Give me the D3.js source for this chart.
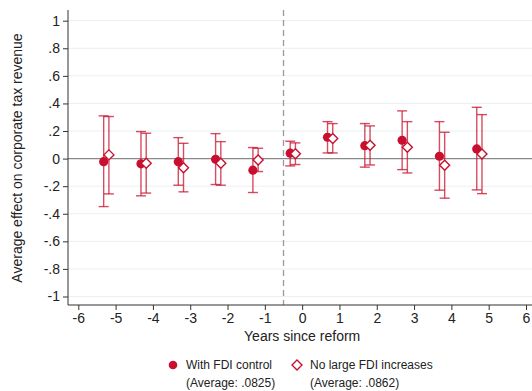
<!DOCTYPE html>
<html>
    <head>
        <meta charset="utf-8">
        <script src="https://cdn.jsdelivr.net/npm/d3@7"></script>
    </head>
    <body style="margin:0;background:#fff">
        <div id="chart-div"></div>
        <script>
            // data
            const years = [-5, -4, -3, -2, -1, 0, 1, 2, 3, 4, 5];
            const fdiEst = [-0.022, -0.038, -0.022, -0.005, -0.084, 0.039, 0.155, 0.094, 0.133, 0.017, 0.070];
            const fdiLo = [-0.348, -0.270, -0.193, -0.188, -0.246, -0.053, 0.041, -0.062, -0.080, -0.229, -0.227];
            const fdiHi = [0.310, 0.196, 0.152, 0.181, 0.080, 0.126, 0.268, 0.254, 0.346, 0.268, 0.372];
            const noIncEst = [0.027, -0.034, -0.067, -0.034, -0.010, 0.036, 0.145, 0.097, 0.083, -0.048, 0.034];
            const noIncLo = [-0.256, -0.250, -0.241, -0.193, -0.094, -0.043, 0.041, -0.046, -0.104, -0.287, -0.254];
            const noIncHi = [0.305, 0.184, 0.111, 0.123, 0.075, 0.114, 0.254, 0.237, 0.268, 0.191, 0.319];
            const xTicks = [-6, -5, -4, -3, -2, -1, 0, 1, 2, 3, 4, 5, 6];
            const yTicks = [-1, -0.8, -0.6, -0.4, -0.2, 0, 0.2, 0.4, 0.6, 0.8, 1];
            const yTickLabels = ["-1", "-.8", "-.6", "-.4", "-.2", "0", ".2", ".4", ".6", ".8", "1"];

            const W = 532, H = 391;
            const color = "#c8102e";

            const svg = d3.select("#chart-div")
                .append("svg")
                .attr("width", W)
                .attr("height", H)
                .style("font-family", "Liberation Sans, Arial, sans-serif");

            // scales
            const x = d3.scaleLinear().domain([-6, 6]).range([78.3, 526]);
            const y = d3.scaleLinear().domain([-1, 1]).range([296.5, 20.7]);
            const plotLeft = 68, plotBottom = 305;

            // gridlines
            svg.append("g")
                .selectAll("line")
                .data(yTicks.filter(d => d !== 0))
                .enter()
                .append("line")
                .attr("x1", plotLeft).attr("x2", W)
                .attr("y1", d => y(d)).attr("y2", d => y(d))
                .attr("stroke", "#e9f0f2")
                .attr("stroke-width", 1);

            // zero line
            svg.append("line")
                .attr("x1", plotLeft).attr("x2", W)
                .attr("y1", y(0)).attr("y2", y(0))
                .attr("stroke", "#8a8a8a")
                .attr("stroke-width", 1.2);

            // reform line
            svg.append("line")
                .attr("x1", x(-0.5)).attr("x2", x(-0.5))
                .attr("y1", 10).attr("y2", plotBottom)
                .attr("stroke", "#9a9a9a")
                .attr("stroke-width", 1.3)
                .attr("stroke-dasharray", "6,4");

            // y axis
            const yAxis = svg.append("g")
                .attr("transform", "translate(" + plotLeft + ",0)")
                .call(d3.axisLeft(y).tickValues(yTicks).tickSize(5).tickPadding(3)
                    .tickFormat((d, i) => yTickLabels[i]));
            yAxis.select(".domain").attr("d", "M0," + 10 + "V" + plotBottom).attr("stroke", "#333");

            // x axis
            const xAxis = svg.append("g")
                .attr("transform", "translate(0," + plotBottom + ")")
                .call(d3.axisBottom(x).tickValues(xTicks).tickSize(5).tickPadding(3)
                    .tickFormat(d => (d < 0 ? "-" : "") + Math.abs(d)));
            xAxis.select(".domain").attr("d", "M" + plotLeft + ",0H" + W).attr("stroke", "#333");

            svg.selectAll(".tick text").attr("font-size", 14).attr("fill", "#222");
            svg.selectAll(".tick line").attr("stroke", "#333");

            // axis titles
            svg.append("text")
                .attr("x", x(0))
                .attr("y", 341)
                .attr("text-anchor", "middle")
                .attr("font-size", 14)
                .attr("fill", "#222")
                .text("Years since reform");

            svg.append("text")
                .attr("transform", "translate(22,158) rotate(-90)")
                .attr("text-anchor", "middle")
                .attr("font-size", 14)
                .attr("fill", "#222")
                .text("Average effect on corporate tax revenue");

            // series
            const series = [
                { est: fdiEst, lo: fdiLo, hi: fdiHi, off: -0.32, shape: "circle" },
                { est: noIncEst, lo: noIncLo, hi: noIncHi, off: -0.18, shape: "diamond" }
            ];

            const capW = 5;
            series.forEach(s => {
                const rows = years.map((t, i) => ({ t: t + s.off, est: s.est[i], lo: s.lo[i], hi: s.hi[i] }));
                const g = svg.append("g");
                const ci = g.selectAll("g.ci").data(rows).enter().append("g")
                    .attr("stroke", color).attr("stroke-opacity", 0.75).attr("stroke-width", 1.4);
                ci.append("line")
                    .attr("x1", d => x(d.t)).attr("x2", d => x(d.t))
                    .attr("y1", d => y(d.lo)).attr("y2", d => y(d.hi));
                ci.append("line")
                    .attr("x1", d => x(d.t) - capW).attr("x2", d => x(d.t) + capW)
                    .attr("y1", d => y(d.lo)).attr("y2", d => y(d.lo));
                ci.append("line")
                    .attr("x1", d => x(d.t) - capW).attr("x2", d => x(d.t) + capW)
                    .attr("y1", d => y(d.hi)).attr("y2", d => y(d.hi));

                if (s.shape === "circle") {
                    g.selectAll("circle").data(rows).enter().append("circle")
                        .attr("cx", d => x(d.t)).attr("cy", d => y(d.est))
                        .attr("r", 4.6).attr("fill", color);
                } else {
                    g.selectAll("path.dm").data(rows).enter().append("path")
                        .attr("d", d => {
                            const cx = x(d.t), cy = y(d.est), r = 5;
                            return "M" + cx + "," + (cy - r) + "L" + (cx + r) + "," + cy + "L" + cx + "," + (cy + r) + "L" + (cx - r) + "," + cy + "Z";
                        })
                        .attr("fill", "#fff").attr("stroke", color).attr("stroke-width", 1.4);
                }
            });

            // legend
            const legend = svg.append("g").attr("font-size", 12).attr("fill", "#222");
            legend.append("circle").attr("cx", 173).attr("cy", 365).attr("r", 4.3).attr("fill", color);
            legend.append("text").attr("x", 186).attr("y", 369).text("With FDI control");
            legend.append("text").attr("x", 186).attr("y", 387).text("(Average: .0825)");
            legend.append("path")
                .attr("d", "M297,360L302,365L297,370L292,365Z")
                .attr("fill", "#fff").attr("stroke", color).attr("stroke-width", 1.4);
            legend.append("text").attr("x", 310).attr("y", 369).text("No large FDI increases");
            legend.append("text").attr("x", 310).attr("y", 387).text("(Average: .0862)");
        </script>
    </body>
</html>
